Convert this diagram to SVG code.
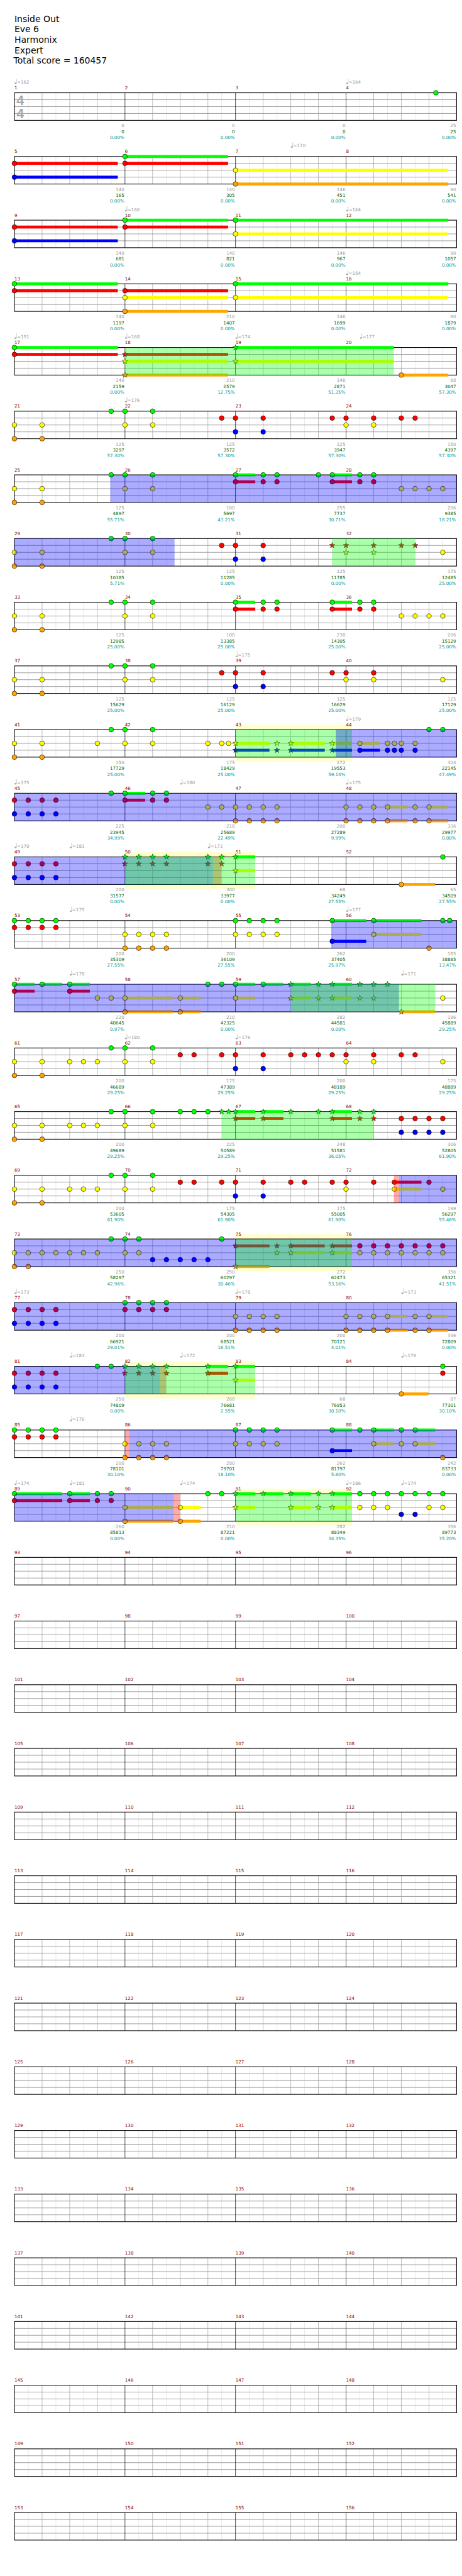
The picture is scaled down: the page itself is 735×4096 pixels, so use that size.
<svg xmlns="http://www.w3.org/2000/svg" xmlns:xlink="http://www.w3.org/1999/xlink" width="735" height="4096" viewBox="0 0 735 4096">
<style>
.t{font-family:"DejaVu Sans",sans-serif;font-size:19.5px;fill:#000}
.m{font-family:"DejaVu Sans",sans-serif;font-size:10px;fill:#8b0000}
.a,.b,.c{font-family:"DejaVu Sans",sans-serif;font-size:10px;text-anchor:end}
.a{fill:#999}.b{fill:#006400}.c{fill:#009a9a}
.tp{font-family:"DejaVu Sans",sans-serif;font-size:10px;fill:#999}
.ts{font-family:"Liberation Sans",sans-serif;font-weight:bold;font-size:30px;fill:#a8a8a8}
.G{fill:#0f0}.R{fill:#f00}.Y{fill:#ff0}.B{fill:#00f}.O{fill:#ffa500}
.og{fill:#0f0;fill-opacity:.33}.ob{fill:#00f;fill-opacity:.33}.or{fill:#f00;fill-opacity:.33}
.yb{fill:#ffffcc}
</style>
<defs>
<g id="staff">
<rect x="32" y="0" width="980" height="61" fill="#fff"/>
<path d="M62.6 0V61M123.9 0V61M185.1 0V61M246.4 0V61M307.6 0V61M368.9 0V61M430.1 0V61M491.4 0V61M552.6 0V61M613.9 0V61M675.1 0V61M736.4 0V61M797.6 0V61M858.9 0V61M920.1 0V61M981.4 0V61" stroke="#e0e0e0"/>
<path d="M93.3 0V61M154.5 0V61M215.8 0V61M338.3 0V61M399.5 0V61M460.8 0V61M583.3 0V61M644.5 0V61M705.8 0V61M828.3 0V61M889.5 0V61M950.8 0V61" stroke="#a0a0a0"/>
<path d="M32 15.25H1012M32 30.5H1012M32 45.75H1012" stroke="#999" stroke-width="1.3"/>
<path d="M277 0V61M522 0V61M767 0V61" stroke="#000"/>
<rect x="32" y="0" width="980" height="61" fill="none" stroke="#000" stroke-width="1.5"/>
</g>
<circle id="g" cy="0" r="5.3" fill="#0f0" stroke="#000" stroke-width=".8"/>
<circle id="r" cy="15.25" r="5.3" fill="#f00" stroke="#000" stroke-width=".8"/>
<circle id="y" cy="30.5" r="5.3" fill="#ff0" stroke="#000" stroke-width=".8"/>
<circle id="b" cy="45.75" r="5.3" fill="#00f" stroke="#000" stroke-width=".8"/>
<circle id="o" cy="61" r="5.3" fill="#ffa500" stroke="#000" stroke-width=".8"/>
<path id="st" d="M0-6.5L1.53-2.1 6.18-2.01 2.47.8 3.82 5.26 0 2.6-3.82 5.26-2.47.8-6.18-2.01-1.53-2.1Z" stroke="#000" stroke-width=".7"/>
<use id="sg" href="#st" fill="#0f0"/>
<use id="sr" href="#st" y="15.25" fill="#f00"/>
<use id="sy" href="#st" y="30.5" fill="#ff0"/>
<use id="sb" href="#st" y="45.75" fill="#00f"/>
<use id="so" href="#st" y="61" fill="#ffa500"/>
<g id="q"><ellipse cx="2.3" cy="-21" rx="2.3" ry="1.8" fill="#aaa"/><line x1="4.4" y1="-21" x2="4.4" y2="-31" stroke="#aaa" stroke-width=".9"/></g>
</defs>
<g transform="scale(0.71777 0.71809)">
<g id="title">
<text class="t" x="32" y="49.3">Inside Out</text>
<text class="t" x="32" y="71.7">Eve 6</text>
<text class="t" x="32" y="95">Harmonix</text>
<text class="t" x="32" y="117.7">Expert</text>
<text class="t" x="30" y="141">Total score = 160457</text>
</g>

<g id="row0" transform="translate(0,205.5)">
<use href="#staff"/>
<text class="ts" x="36.5" y="27">4</text><text class="ts" x="36.5" y="57">4</text>
<use href="#g" x="966.1"/>
<use href="#q" x="32"/><text class="tp" x="37.5" y="-20">=162</text>
<use href="#q" x="767"/><text class="tp" x="772.5" y="-20">=164</text>
<text class="m" x="32" y="-7.7">1</text><text class="m" x="277" y="-7.7">2</text><text class="m" x="522" y="-7.7">3</text><text class="m" x="767" y="-7.7">4</text>
<text class="a" x="275.5" y="76.5">0</text><text class="a" x="520.5" y="76.5">0</text><text class="a" x="765.5" y="76.5">0</text><text class="a" x="1011" y="76.5">25</text>
<text class="b" x="275.5" y="89.5">0</text><text class="b" x="520.5" y="89.5">0</text><text class="b" x="765.5" y="89.5">0</text><text class="b" x="1011" y="89.5">25</text>
<text class="c" x="275.5" y="102.5">0.00%</text><text class="c" x="520.5" y="102.5">0.00%</text><text class="c" x="765.5" y="102.5">0.00%</text><text class="c" x="1011" y="102.5">0.00%</text>
</g>

<g id="row1" transform="translate(0,346.5)">
<use href="#staff"/>
<rect class="R" x="32" y="12" width="229.1" height="6.5"/><rect class="B" x="32" y="42.5" width="229.1" height="6.5"/>
<rect class="G" x="277" y="-3.25" width="228.5" height="6.5"/><rect class="R" x="277" y="12" width="228.5" height="6.5"/>
<rect class="Y" x="522" y="27.25" width="471.6" height="6.5"/><rect class="O" x="522" y="57.75" width="471.6" height="6.5"/>
<use href="#r" x="32"/><use href="#b" x="32"/><use href="#g" x="277"/><use href="#r" x="277"/><use href="#y" x="522"/><use href="#o" x="522"/>
<use href="#q" x="644.5"/><text class="tp" x="650" y="-20">=170</text>
<text class="m" x="32" y="-7.7">5</text><text class="m" x="277" y="-7.7">6</text><text class="m" x="522" y="-7.7">7</text><text class="m" x="767" y="-7.7">8</text>
<text class="a" x="275.5" y="76.5">140</text><text class="a" x="520.5" y="76.5">140</text><text class="a" x="765.5" y="76.5">146</text><text class="a" x="1011" y="76.5">90</text>
<text class="b" x="275.5" y="89.5">165</text><text class="b" x="520.5" y="89.5">305</text><text class="b" x="765.5" y="89.5">451</text><text class="b" x="1011" y="89.5">541</text>
<text class="c" x="275.5" y="102.5">0.00%</text><text class="c" x="520.5" y="102.5">0.00%</text><text class="c" x="765.5" y="102.5">0.00%</text><text class="c" x="1011" y="102.5">0.00%</text>
</g>

<g id="row2" transform="translate(0,487.5)">
<use href="#staff"/>
<rect class="R" x="32" y="12" width="229.1" height="6.5"/><rect class="B" x="32" y="42.5" width="229.1" height="6.5"/>
<rect class="G" x="277" y="-3.25" width="228.5" height="6.5"/><rect class="R" x="277" y="12" width="228.5" height="6.5"/>
<rect class="G" x="522" y="-3.25" width="471.6" height="6.5"/><rect class="Y" x="522" y="27.25" width="471.6" height="6.5"/>
<use href="#r" x="32"/><use href="#b" x="32"/><use href="#g" x="277"/><use href="#r" x="277"/><use href="#g" x="522"/><use href="#y" x="522"/>
<use href="#q" x="277"/><text class="tp" x="282.5" y="-20">=160</text>
<use href="#q" x="767"/><text class="tp" x="772.5" y="-20">=164</text>
<text class="m" x="32" y="-7.7">9</text><text class="m" x="277" y="-7.7">10</text><text class="m" x="522" y="-7.7">11</text><text class="m" x="767" y="-7.7">12</text>
<text class="a" x="275.5" y="76.5">140</text><text class="a" x="520.5" y="76.5">140</text><text class="a" x="765.5" y="76.5">146</text><text class="a" x="1011" y="76.5">90</text>
<text class="b" x="275.5" y="89.5">681</text><text class="b" x="520.5" y="89.5">821</text><text class="b" x="765.5" y="89.5">967</text><text class="b" x="1011" y="89.5">1057</text>
<text class="c" x="275.5" y="102.5">0.00%</text><text class="c" x="520.5" y="102.5">0.00%</text><text class="c" x="765.5" y="102.5">0.00%</text><text class="c" x="1011" y="102.5">0.00%</text>
</g>

<g id="row3" transform="translate(0,628.5)">
<use href="#staff"/>
<rect class="G" x="32" y="-3.25" width="229.1" height="6.5"/><rect class="R" x="32" y="12" width="229.1" height="6.5"/>
<rect class="R" x="277" y="12" width="228.5" height="6.5"/><rect class="Y" x="277" y="27.25" width="228.5" height="6.5"/><rect class="O" x="277" y="57.75" width="228.5" height="6.5"/>
<rect class="G" x="522" y="-3.25" width="471.6" height="6.5"/><rect class="Y" x="522" y="27.25" width="471.6" height="6.5"/>
<use href="#g" x="32"/><use href="#r" x="32"/><use href="#r" x="277"/><use href="#y" x="277"/><use href="#o" x="277"/><use href="#g" x="522"/><use href="#y" x="522"/>
<use href="#q" x="767"/><text class="tp" x="772.5" y="-20">=154</text>
<text class="m" x="32" y="-7.7">13</text><text class="m" x="277" y="-7.7">14</text><text class="m" x="522" y="-7.7">15</text><text class="m" x="767" y="-7.7">16</text>
<text class="a" x="275.5" y="76.5">140</text><text class="a" x="520.5" y="76.5">210</text><text class="a" x="765.5" y="76.5">146</text><text class="a" x="1011" y="76.5">90</text>
<text class="b" x="275.5" y="89.5">1197</text><text class="b" x="520.5" y="89.5">1407</text><text class="b" x="765.5" y="89.5">1699</text><text class="b" x="1011" y="89.5">1879</text>
<text class="c" x="275.5" y="102.5">0.00%</text><text class="c" x="520.5" y="102.5">0.00%</text><text class="c" x="765.5" y="102.5">0.00%</text><text class="c" x="1011" y="102.5">0.00%</text>
</g>

<g id="row4" transform="translate(0,769.5)">
<use href="#staff"/>
<rect class="G" x="32" y="-3.25" width="229.1" height="6.5"/><rect class="R" x="32" y="12" width="229.1" height="6.5"/>
<rect class="R" x="277" y="12" width="228.5" height="6.5"/><rect class="Y" x="277" y="27.25" width="228.5" height="6.5"/><rect class="O" x="277" y="57.75" width="228.5" height="6.5"/>
<rect class="G" x="522" y="-3.25" width="351" height="6.5"/><rect class="Y" x="522" y="27.25" width="351" height="6.5"/>
<rect class="O" x="889.5" y="57.75" width="104.1" height="6.5"/>
<use href="#g" x="32"/><use href="#r" x="32"/>
<use href="#sr" x="277"/><use href="#sy" x="277"/><use href="#so" x="277"/><use href="#sg" x="522"/><use href="#sy" x="522"/>
<use href="#o" x="889.5"/>
<rect class="og" x="277" y="0" width="596" height="61"/>
<use href="#q" x="32"/><text class="tp" x="37.5" y="-20">=151</text>
<use href="#q" x="277"/><text class="tp" x="282.5" y="-20">=168</text>
<use href="#q" x="522"/><text class="tp" x="527.5" y="-20">=174</text>
<use href="#q" x="797.6"/><text class="tp" x="803.1" y="-20">=177</text>
<text class="m" x="32" y="-7.7">17</text><text class="m" x="277" y="-7.7">18</text><text class="m" x="522" y="-7.7">19</text><text class="m" x="767" y="-7.7">20</text>
<text class="a" x="275.5" y="76.5">140</text><text class="a" x="520.5" y="76.5">210</text><text class="a" x="765.5" y="76.5">146</text><text class="a" x="1011" y="76.5">88</text>
<text class="b" x="275.5" y="89.5">2159</text><text class="b" x="520.5" y="89.5">2579</text><text class="b" x="765.5" y="89.5">2871</text><text class="b" x="1011" y="89.5">3047</text>
<text class="c" x="275.5" y="102.5">0.00%</text><text class="c" x="520.5" y="102.5">12.75%</text><text class="c" x="765.5" y="102.5">51.35%</text><text class="c" x="1011" y="102.5">57.30%</text>
</g>

<g id="row5" transform="translate(0,910.5)">
<use href="#staff"/>
<use href="#g" x="246.4"/><use href="#g" x="277"/><use href="#g" x="338.3"/>
<use href="#r" x="491.4"/><use href="#r" x="522"/><use href="#r" x="583.3"/><use href="#r" x="736.4"/><use href="#r" x="767"/><use href="#r" x="828.3"/><use href="#r" x="889.5"/><use href="#r" x="920.1"/>
<use href="#y" x="32"/><use href="#y" x="93.3"/><use href="#y" x="277"/><use href="#y" x="338.3"/><use href="#y" x="767"/><use href="#y" x="828.3"/>
<use href="#b" x="522"/><use href="#b" x="583.3"/><use href="#o" x="32"/><use href="#o" x="93.3"/>
<use href="#q" x="277"/><text class="tp" x="282.5" y="-20">=176</text>
<text class="m" x="32" y="-7.7">21</text><text class="m" x="277" y="-7.7">22</text><text class="m" x="522" y="-7.7">23</text><text class="m" x="767" y="-7.7">24</text>
<text class="a" x="275.5" y="76.5">125</text><text class="a" x="520.5" y="76.5">125</text><text class="a" x="765.5" y="76.5">125</text><text class="a" x="1011" y="76.5">150</text>
<text class="b" x="275.5" y="89.5">3297</text><text class="b" x="520.5" y="89.5">3572</text><text class="b" x="765.5" y="89.5">3947</text><text class="b" x="1011" y="89.5">4397</text>
<text class="c" x="275.5" y="102.5">57.30%</text><text class="c" x="520.5" y="102.5">57.30%</text><text class="c" x="765.5" y="102.5">57.30%</text><text class="c" x="1011" y="102.5">57.30%</text>
</g>

<g id="row6" transform="translate(0,1051.5)">
<use href="#staff"/>
<rect class="G" x="522" y="-3.25" width="43.8" height="6.5"/><rect class="R" x="522" y="12" width="43.8" height="6.5"/>
<rect class="G" x="736.4" y="-3.25" width="43.8" height="6.5"/><rect class="R" x="736.4" y="12" width="43.8" height="6.5"/>
<use href="#g" x="246.4"/><use href="#g" x="277"/><use href="#g" x="338.3"/><use href="#g" x="522"/><use href="#g" x="583.3"/><use href="#g" x="613.9"/><use href="#g" x="705.8"/><use href="#g" x="736.4"/><use href="#g" x="797.6"/><use href="#g" x="828.3"/>
<use href="#r" x="522"/><use href="#r" x="583.3"/><use href="#r" x="613.9"/><use href="#r" x="736.4"/><use href="#r" x="797.6"/><use href="#r" x="828.3"/>
<use href="#y" x="32"/><use href="#y" x="93.3"/><use href="#y" x="277"/><use href="#y" x="338.3"/><use href="#y" x="889.5"/><use href="#y" x="920.1"/><use href="#y" x="950.8"/><use href="#y" x="981.4"/>
<use href="#o" x="32"/><use href="#o" x="93.3"/>
<rect class="ob" x="244.3" y="0" width="767.7" height="61"/>
<text class="m" x="32" y="-7.7">25</text><text class="m" x="277" y="-7.7">26</text><text class="m" x="522" y="-7.7">27</text><text class="m" x="767" y="-7.7">28</text>
<text class="a" x="275.5" y="76.5">125</text><text class="a" x="520.5" y="76.5">100</text><text class="a" x="765.5" y="76.5">255</text><text class="a" x="1011" y="76.5">206</text>
<text class="b" x="275.5" y="89.5">4897</text><text class="b" x="520.5" y="89.5">5697</text><text class="b" x="765.5" y="89.5">7737</text><text class="b" x="1011" y="89.5">9385</text>
<text class="c" x="275.5" y="102.5">55.71%</text><text class="c" x="520.5" y="102.5">43.21%</text><text class="c" x="765.5" y="102.5">30.71%</text><text class="c" x="1011" y="102.5">18.21%</text>
</g>

<g id="row7" transform="translate(0,1192.5)">
<use href="#staff"/>
<use href="#g" x="246.4"/><use href="#g" x="277"/><use href="#g" x="338.3"/>
<use href="#y" x="32"/><use href="#y" x="93.3"/><use href="#y" x="277"/><use href="#y" x="338.3"/><use href="#y" x="981.4"/>
<use href="#o" x="32"/><use href="#o" x="93.3"/>
<use href="#r" x="491.4"/><use href="#r" x="522"/><use href="#r" x="583.3"/><use href="#b" x="522"/><use href="#b" x="583.3"/>
<use href="#sr" x="736.4"/><use href="#sr" x="767"/><use href="#sr" x="828.3"/><use href="#sr" x="889.5"/><use href="#sr" x="920.1"/>
<use href="#sy" x="767"/><use href="#sy" x="828.3"/>
<rect class="ob" x="32" y="0" width="354.9" height="61"/><rect class="og" x="736.4" y="0" width="183.7" height="61"/>
<text class="m" x="32" y="-7.7">29</text><text class="m" x="277" y="-7.7">30</text><text class="m" x="522" y="-7.7">31</text><text class="m" x="767" y="-7.7">32</text>
<text class="a" x="275.5" y="76.5">125</text><text class="a" x="520.5" y="76.5">125</text><text class="a" x="765.5" y="76.5">125</text><text class="a" x="1011" y="76.5">175</text>
<text class="b" x="275.5" y="89.5">10385</text><text class="b" x="520.5" y="89.5">11285</text><text class="b" x="765.5" y="89.5">11785</text><text class="b" x="1011" y="89.5">12485</text>
<text class="c" x="275.5" y="102.5">5.71%</text><text class="c" x="520.5" y="102.5">0.00%</text><text class="c" x="765.5" y="102.5">0.00%</text><text class="c" x="1011" y="102.5">25.00%</text>
</g>

<g id="row8" transform="translate(0,1333.5)">
<use href="#staff"/>
<rect class="G" x="522" y="-3.25" width="43.8" height="6.5"/><rect class="R" x="522" y="12" width="43.8" height="6.5"/>
<rect class="G" x="736.4" y="-3.25" width="43.8" height="6.5"/><rect class="R" x="736.4" y="12" width="43.8" height="6.5"/>
<use href="#g" x="246.4"/><use href="#g" x="277"/><use href="#g" x="338.3"/><use href="#g" x="522"/><use href="#g" x="583.3"/><use href="#g" x="613.9"/><use href="#g" x="736.4"/><use href="#g" x="797.6"/><use href="#g" x="828.3"/>
<use href="#r" x="522"/><use href="#r" x="583.3"/><use href="#r" x="613.9"/><use href="#r" x="736.4"/><use href="#r" x="797.6"/><use href="#r" x="828.3"/>
<use href="#y" x="32"/><use href="#y" x="93.3"/><use href="#y" x="277"/><use href="#y" x="338.3"/><use href="#y" x="889.5"/><use href="#y" x="920.1"/><use href="#y" x="950.8"/><use href="#y" x="981.4"/>
<use href="#o" x="32"/><use href="#o" x="93.3"/>
<text class="m" x="32" y="-7.7">33</text><text class="m" x="277" y="-7.7">34</text><text class="m" x="522" y="-7.7">35</text><text class="m" x="767" y="-7.7">36</text>
<text class="a" x="275.5" y="76.5">125</text><text class="a" x="520.5" y="76.5">100</text><text class="a" x="765.5" y="76.5">230</text><text class="a" x="1011" y="76.5">206</text>
<text class="b" x="275.5" y="89.5">12985</text><text class="b" x="520.5" y="89.5">13385</text><text class="b" x="765.5" y="89.5">14305</text><text class="b" x="1011" y="89.5">15129</text>
<text class="c" x="275.5" y="102.5">25.00%</text><text class="c" x="520.5" y="102.5">25.00%</text><text class="c" x="765.5" y="102.5">25.00%</text><text class="c" x="1011" y="102.5">25.00%</text>
</g>

<g id="row9" transform="translate(0,1474.5)">
<use href="#staff"/>
<use href="#g" x="246.4"/><use href="#g" x="277"/><use href="#g" x="338.3"/>
<use href="#r" x="491.4"/><use href="#r" x="522"/><use href="#r" x="583.3"/><use href="#r" x="736.4"/><use href="#r" x="767"/><use href="#r" x="828.3"/>
<use href="#y" x="32"/><use href="#y" x="93.3"/><use href="#y" x="277"/><use href="#y" x="338.3"/><use href="#y" x="767"/><use href="#y" x="828.3"/><use href="#y" x="981.4"/>
<use href="#b" x="522"/><use href="#b" x="583.3"/><use href="#o" x="32"/><use href="#o" x="93.3"/>
<use href="#q" x="522"/><text class="tp" x="527.5" y="-20">=175</text>
<text class="m" x="32" y="-7.7">37</text><text class="m" x="277" y="-7.7">38</text><text class="m" x="522" y="-7.7">39</text><text class="m" x="767" y="-7.7">40</text>
<text class="a" x="275.5" y="76.5">125</text><text class="a" x="520.5" y="76.5">125</text><text class="a" x="765.5" y="76.5">125</text><text class="a" x="1011" y="76.5">125</text>
<text class="b" x="275.5" y="89.5">15629</text><text class="b" x="520.5" y="89.5">16129</text><text class="b" x="765.5" y="89.5">16629</text><text class="b" x="1011" y="89.5">17129</text>
<text class="c" x="275.5" y="102.5">25.00%</text><text class="c" x="520.5" y="102.5">25.00%</text><text class="c" x="765.5" y="102.5">25.00%</text><text class="c" x="1011" y="102.5">25.00%</text>
</g>

<g id="row10" transform="translate(0,1615.5)">
<rect class="yb" x="522" y="-10.8" width="258.2" height="82"/>
<use href="#staff"/>
<rect class="Y" x="522" y="27.25" width="75.3" height="6.5"/><rect class="B" x="522" y="42.5" width="75.3" height="6.5"/>
<rect class="Y" x="644.5" y="27.25" width="75.3" height="6.5"/><rect class="B" x="644.5" y="42.5" width="75.3" height="6.5"/>
<rect class="Y" x="736.4" y="27.25" width="43.8" height="6.5"/><rect class="B" x="736.4" y="42.5" width="43.8" height="6.5"/>
<rect class="Y" x="797.6" y="27.25" width="44.7" height="6.5"/><rect class="B" x="797.6" y="42.5" width="44.7" height="6.5"/>
<use href="#g" x="246.4"/><use href="#g" x="277"/><use href="#g" x="338.3"/><use href="#g" x="950.8"/><use href="#g" x="981.4"/>
<use href="#y" x="32"/><use href="#y" x="93.3"/><use href="#y" x="215.8"/><use href="#y" x="277"/><use href="#y" x="338.3"/><use href="#y" x="460.8"/><use href="#y" x="491.4"/><use href="#y" x="506.7"/>
<use href="#sy" x="522"/><use href="#sy" x="613.9"/><use href="#sy" x="644.5"/><use href="#sy" x="736.4"/>
<use href="#sb" x="522"/><use href="#sb" x="613.9"/><use href="#sb" x="644.5"/><use href="#sb" x="736.4"/>
<use href="#y" x="797.6"/><use href="#y" x="858.9"/><use href="#y" x="874.2"/><use href="#y" x="889.5"/><use href="#y" x="920.1"/>
<use href="#b" x="797.6"/><use href="#b" x="858.9"/><use href="#b" x="874.2"/><use href="#b" x="889.5"/><use href="#b" x="920.1"/>
<use href="#o" x="32"/><use href="#o" x="93.3"/>
<rect class="og" x="522" y="0" width="258.2" height="61"/><rect class="ob" x="744.3" y="0" width="267.7" height="61"/>
<use href="#q" x="767"/><text class="tp" x="772.5" y="-20">=179</text>
<text class="m" x="32" y="-7.7">41</text><text class="m" x="277" y="-7.7">42</text><text class="m" x="522" y="-7.7">43</text><text class="m" x="767" y="-7.7">44</text>
<text class="a" x="275.5" y="76.5">150</text><text class="a" x="520.5" y="76.5">175</text><text class="a" x="765.5" y="76.5">272</text><text class="a" x="1011" y="76.5">324</text>
<text class="b" x="275.5" y="89.5">17729</text><text class="b" x="520.5" y="89.5">18429</text><text class="b" x="765.5" y="89.5">19553</text><text class="b" x="1011" y="89.5">22145</text>
<text class="c" x="275.5" y="102.5">25.00%</text><text class="c" x="520.5" y="102.5">25.00%</text><text class="c" x="765.5" y="102.5">59.14%</text><text class="c" x="1011" y="102.5">47.49%</text>
</g>

<g id="row11" transform="translate(0,1756.5)">
<use href="#staff"/>
<rect class="G" x="277" y="-3.25" width="44.7" height="6.5"/><rect class="R" x="277" y="12" width="44.7" height="6.5"/>
<rect class="Y" x="858.9" y="27.25" width="44.7" height="6.5"/><rect class="O" x="858.9" y="57.75" width="44.7" height="6.5"/>
<rect class="Y" x="950.8" y="27.25" width="42.8" height="6.5"/><rect class="O" x="950.8" y="57.75" width="42.8" height="6.5"/>
<use href="#g" x="246.4"/><use href="#g" x="277"/><use href="#g" x="338.3"/><use href="#g" x="368.9"/>
<use href="#r" x="32"/><use href="#r" x="62.6"/><use href="#r" x="93.3"/><use href="#r" x="123.9"/><use href="#r" x="277"/><use href="#r" x="338.3"/><use href="#r" x="368.9"/>
<use href="#b" x="32"/><use href="#b" x="62.6"/><use href="#b" x="93.3"/><use href="#b" x="123.9"/>
<use href="#y" x="460.8"/><use href="#y" x="491.4"/><use href="#y" x="522"/><use href="#y" x="552.6"/><use href="#y" x="583.3"/><use href="#y" x="613.9"/><use href="#y" x="767"/><use href="#y" x="797.6"/><use href="#y" x="828.3"/><use href="#y" x="858.9"/><use href="#y" x="920.1"/><use href="#y" x="950.8"/>
<use href="#o" x="522"/><use href="#o" x="552.6"/><use href="#o" x="583.3"/><use href="#o" x="613.9"/><use href="#o" x="767"/><use href="#o" x="797.6"/><use href="#o" x="828.3"/><use href="#o" x="858.9"/><use href="#o" x="920.1"/><use href="#o" x="950.8"/>
<rect class="ob" x="32" y="0" width="980" height="61"/>
<use href="#q" x="32"/><text class="tp" x="37.5" y="-20">=175</text>
<use href="#q" x="399.5"/><text class="tp" x="405" y="-20">=180</text>
<use href="#q" x="767"/><text class="tp" x="772.5" y="-20">=175</text>
<text class="m" x="32" y="-7.7">45</text><text class="m" x="277" y="-7.7">46</text><text class="m" x="522" y="-7.7">47</text><text class="m" x="767" y="-7.7">48</text>
<text class="a" x="275.5" y="76.5">225</text><text class="a" x="520.5" y="76.5">218</text><text class="a" x="765.5" y="76.5">200</text><text class="a" x="1011" y="76.5">336</text>
<text class="b" x="275.5" y="89.5">23945</text><text class="b" x="520.5" y="89.5">25689</text><text class="b" x="765.5" y="89.5">27289</text><text class="b" x="1011" y="89.5">29977</text>
<text class="c" x="275.5" y="102.5">34.99%</text><text class="c" x="520.5" y="102.5">22.49%</text><text class="c" x="765.5" y="102.5">9.99%</text><text class="c" x="1011" y="102.5">0.00%</text>
</g>

<g id="row12" transform="translate(0,1897.5)">
<rect class="yb" x="277" y="-10.8" width="288.8" height="82"/>
<use href="#staff"/>
<rect class="G" x="522" y="-3.25" width="43.8" height="6.5"/><rect class="Y" x="522" y="27.25" width="43.8" height="6.5"/>
<rect class="O" x="889.5" y="57.75" width="75.3" height="6.5"/>
<use href="#r" x="32"/><use href="#r" x="62.6"/><use href="#r" x="93.3"/><use href="#r" x="123.9"/>
<use href="#b" x="32"/><use href="#b" x="62.6"/><use href="#b" x="93.3"/><use href="#b" x="123.9"/>
<use href="#sg" x="277"/><use href="#sg" x="307.6"/><use href="#sg" x="338.3"/><use href="#sg" x="368.9"/><use href="#sg" x="460.8"/><use href="#sg" x="491.4"/><use href="#sg" x="522"/>
<use href="#sr" x="277"/><use href="#sr" x="307.6"/><use href="#sr" x="338.3"/><use href="#sr" x="368.9"/><use href="#sr" x="460.8"/><use href="#sr" x="491.4"/>
<use href="#sy" x="522"/><use href="#g" x="981.4"/><use href="#o" x="889.5"/>
<rect class="ob" x="32" y="0" width="440.1" height="61"/><rect class="or" x="472.1" y="0" width="18.9" height="61"/><rect class="og" x="277" y="0" width="288.8" height="61"/>
<use href="#q" x="32"/><text class="tp" x="37.5" y="-20">=170</text>
<use href="#q" x="154.5"/><text class="tp" x="160" y="-20">=181</text>
<use href="#q" x="460.8"/><text class="tp" x="466.3" y="-20">=173</text>
<text class="m" x="32" y="-7.7">49</text><text class="m" x="277" y="-7.7">50</text><text class="m" x="522" y="-7.7">51</text><text class="m" x="767" y="-7.7">52</text>
<text class="a" x="275.5" y="76.5">200</text><text class="a" x="520.5" y="76.5">300</text><text class="a" x="765.5" y="76.5">68</text><text class="a" x="1011" y="76.5">65</text>
<text class="b" x="275.5" y="89.5">31577</text><text class="b" x="520.5" y="89.5">33977</text><text class="b" x="765.5" y="89.5">34249</text><text class="b" x="1011" y="89.5">34509</text>
<text class="c" x="275.5" y="102.5">0.00%</text><text class="c" x="520.5" y="102.5">0.00%</text><text class="c" x="765.5" y="102.5">27.55%</text><text class="c" x="1011" y="102.5">27.55%</text>
</g>

<g id="row13" transform="translate(0,2038.5)">
<use href="#staff"/>
<rect class="G" x="736.4" y="-3.25" width="75.3" height="6.5"/><rect class="G" x="828.3" y="-3.25" width="105.9" height="6.5"/>
<rect class="Y" x="828.3" y="27.25" width="105.9" height="6.5"/><rect class="B" x="736.4" y="42.5" width="75.3" height="6.5"/>
<use href="#g" x="32"/><use href="#g" x="62.6"/><use href="#g" x="93.3"/><use href="#g" x="123.9"/><use href="#g" x="522"/><use href="#g" x="552.6"/><use href="#g" x="583.3"/><use href="#g" x="613.9"/><use href="#g" x="736.4"/><use href="#g" x="828.3"/><use href="#g" x="981.4"/><use href="#g" x="996.7"/>
<use href="#r" x="32"/><use href="#r" x="62.6"/><use href="#r" x="93.3"/><use href="#r" x="123.9"/>
<use href="#y" x="277"/><use href="#y" x="307.6"/><use href="#y" x="338.3"/><use href="#y" x="368.9"/><use href="#y" x="522"/><use href="#y" x="552.6"/><use href="#y" x="583.3"/><use href="#y" x="613.9"/><use href="#y" x="828.3"/>
<use href="#b" x="736.4"/>
<use href="#o" x="277"/><use href="#o" x="307.6"/><use href="#o" x="338.3"/><use href="#o" x="368.9"/><use href="#o" x="950.8"/>
<rect class="ob" x="734.2" y="0" width="277.8" height="61"/>
<use href="#q" x="154.5"/><text class="tp" x="160" y="-20">=175</text>
<use href="#q" x="767"/><text class="tp" x="772.5" y="-20">=177</text>
<text class="m" x="32" y="-7.7">53</text><text class="m" x="277" y="-7.7">54</text><text class="m" x="522" y="-7.7">55</text><text class="m" x="767" y="-7.7">56</text>
<text class="a" x="275.5" y="76.5">200</text><text class="a" x="520.5" y="76.5">200</text><text class="a" x="765.5" y="76.5">262</text><text class="a" x="1011" y="76.5">185</text>
<text class="b" x="275.5" y="89.5">35309</text><text class="b" x="520.5" y="89.5">36109</text><text class="b" x="765.5" y="89.5">37405</text><text class="b" x="1011" y="89.5">38885</text>
<text class="c" x="275.5" y="102.5">27.55%</text><text class="c" x="520.5" y="102.5">27.55%</text><text class="c" x="765.5" y="102.5">25.97%</text><text class="c" x="1011" y="102.5">13.47%</text>
</g>

<g id="row14" transform="translate(0,2179.5)">
<use href="#staff"/>
<rect class="G" x="32" y="-3.25" width="44.7" height="6.5"/><rect class="G" x="93.3" y="-3.25" width="44.7" height="6.5"/><rect class="G" x="154.5" y="-3.25" width="44.7" height="6.5"/>
<rect class="R" x="32" y="12" width="44.7" height="6.5"/><rect class="R" x="154.5" y="12" width="44.7" height="6.5"/>
<rect class="G" x="522" y="-3.25" width="43.8" height="6.5"/><rect class="G" x="583.3" y="-3.25" width="44.7" height="6.5"/><rect class="G" x="644.5" y="-3.25" width="44.7" height="6.5"/><rect class="G" x="736.4" y="-3.25" width="43.8" height="6.5"/>
<rect class="Y" x="277" y="27.25" width="106.6" height="6.5"/><rect class="Y" x="399.5" y="27.25" width="45.3" height="6.5"/><rect class="Y" x="522" y="27.25" width="43.8" height="6.5"/><rect class="Y" x="644.5" y="27.25" width="44.7" height="6.5"/><rect class="Y" x="736.4" y="27.25" width="43.8" height="6.5"/>
<rect class="O" x="277" y="57.75" width="106.6" height="6.5"/><rect class="O" x="399.5" y="57.75" width="45.3" height="6.5"/><rect class="O" x="889.5" y="57.75" width="75.3" height="6.5"/>
<use href="#g" x="32"/><use href="#g" x="93.3"/><use href="#g" x="154.5"/><use href="#g" x="460.8"/><use href="#g" x="491.4"/><use href="#g" x="522"/><use href="#g" x="583.3"/>
<use href="#sg" x="644.5"/><use href="#sg" x="705.8"/><use href="#sg" x="736.4"/><use href="#sg" x="797.6"/><use href="#sg" x="828.3"/><use href="#sg" x="858.9"/>
<use href="#r" x="32"/><use href="#r" x="154.5"/>
<use href="#y" x="215.8"/><use href="#y" x="246.4"/><use href="#y" x="277"/><use href="#y" x="399.5"/><use href="#y" x="522"/>
<use href="#sy" x="644.5"/><use href="#sy" x="705.8"/><use href="#sy" x="736.4"/><use href="#sy" x="797.6"/><use href="#sy" x="828.3"/>
<use href="#y" x="981.4"/><use href="#o" x="277"/><use href="#o" x="399.5"/><use href="#so" x="889.5"/>
<rect class="ob" x="32" y="0" width="852.3" height="61"/><rect class="og" x="644.5" y="0" width="320.3" height="61"/>
<use href="#q" x="154.5"/><text class="tp" x="160" y="-20">=178</text>
<use href="#q" x="889.5"/><text class="tp" x="895" y="-20">=171</text>
<text class="m" x="32" y="-7.7">57</text><text class="m" x="277" y="-7.7">58</text><text class="m" x="522" y="-7.7">59</text><text class="m" x="767" y="-7.7">60</text>
<text class="a" x="275.5" y="76.5">220</text><text class="a" x="520.5" y="76.5">210</text><text class="a" x="765.5" y="76.5">282</text><text class="a" x="1011" y="76.5">196</text>
<text class="b" x="275.5" y="89.5">40645</text><text class="b" x="520.5" y="89.5">42325</text><text class="b" x="765.5" y="89.5">44581</text><text class="b" x="1011" y="89.5">45889</text>
<text class="c" x="275.5" y="102.5">0.97%</text><text class="c" x="520.5" y="102.5">0.00%</text><text class="c" x="765.5" y="102.5">0.00%</text><text class="c" x="1011" y="102.5">29.25%</text>
</g>

<g id="row15" transform="translate(0,2320.5)">
<use href="#staff"/>
<use href="#g" x="246.4"/><use href="#g" x="277"/><use href="#g" x="338.3"/>
<use href="#r" x="399.5"/><use href="#r" x="430.1"/><use href="#r" x="491.4"/><use href="#r" x="522"/><use href="#r" x="583.3"/><use href="#r" x="644.5"/><use href="#r" x="675.1"/><use href="#r" x="705.8"/><use href="#r" x="736.4"/><use href="#r" x="767"/><use href="#r" x="828.3"/><use href="#r" x="889.5"/><use href="#r" x="920.1"/>
<use href="#y" x="32"/><use href="#y" x="93.3"/><use href="#y" x="154.5"/><use href="#y" x="185.1"/><use href="#y" x="215.8"/><use href="#y" x="277"/><use href="#y" x="338.3"/><use href="#y" x="767"/><use href="#y" x="828.3"/><use href="#y" x="981.4"/>
<use href="#b" x="522"/><use href="#b" x="583.3"/><use href="#o" x="32"/><use href="#o" x="93.3"/>
<use href="#q" x="277"/><text class="tp" x="282.5" y="-20">=180</text>
<use href="#q" x="522"/><text class="tp" x="527.5" y="-20">=176</text>
<text class="m" x="32" y="-7.7">61</text><text class="m" x="277" y="-7.7">62</text><text class="m" x="522" y="-7.7">63</text><text class="m" x="767" y="-7.7">64</text>
<text class="a" x="275.5" y="76.5">200</text><text class="a" x="520.5" y="76.5">175</text><text class="a" x="765.5" y="76.5">200</text><text class="a" x="1011" y="76.5">175</text>
<text class="b" x="275.5" y="89.5">46689</text><text class="b" x="520.5" y="89.5">47389</text><text class="b" x="765.5" y="89.5">48189</text><text class="b" x="1011" y="89.5">48889</text>
<text class="c" x="275.5" y="102.5">29.25%</text><text class="c" x="520.5" y="102.5">29.25%</text><text class="c" x="765.5" y="102.5">29.25%</text><text class="c" x="1011" y="102.5">29.25%</text>
</g>

<g id="row16" transform="translate(0,2461.5)">
<use href="#staff"/>
<rect class="G" x="522" y="-3.25" width="43.8" height="6.5"/><rect class="G" x="583.3" y="-3.25" width="44.7" height="6.5"/><rect class="G" x="736.4" y="-3.25" width="43.8" height="6.5"/>
<rect class="R" x="522" y="12" width="43.8" height="6.5"/><rect class="R" x="583.3" y="12" width="44.7" height="6.5"/><rect class="R" x="736.4" y="12" width="43.8" height="6.5"/>
<use href="#g" x="246.4"/><use href="#g" x="277"/><use href="#g" x="338.3"/><use href="#g" x="399.5"/><use href="#g" x="430.1"/><use href="#g" x="460.8"/>
<use href="#sg" x="491.4"/><use href="#sg" x="506.7"/><use href="#sg" x="522"/><use href="#sg" x="583.3"/><use href="#sg" x="644.5"/><use href="#sg" x="705.8"/><use href="#sg" x="736.4"/><use href="#sg" x="797.6"/><use href="#sg" x="828.3"/>
<use href="#sr" x="522"/><use href="#sr" x="583.3"/><use href="#sr" x="736.4"/><use href="#sr" x="797.6"/><use href="#sr" x="828.3"/>
<use href="#r" x="889.5"/><use href="#r" x="920.1"/><use href="#r" x="950.8"/><use href="#r" x="981.4"/>
<use href="#y" x="32"/><use href="#y" x="93.3"/><use href="#y" x="154.5"/><use href="#y" x="185.1"/><use href="#y" x="215.8"/><use href="#y" x="277"/><use href="#y" x="338.3"/>
<use href="#b" x="889.5"/><use href="#b" x="920.1"/><use href="#b" x="950.8"/><use href="#b" x="981.4"/>
<use href="#o" x="32"/><use href="#o" x="93.3"/>
<rect class="og" x="491.4" y="0" width="336.9" height="61"/>
<text class="m" x="32" y="-7.7">65</text><text class="m" x="277" y="-7.7">66</text><text class="m" x="522" y="-7.7">67</text><text class="m" x="767" y="-7.7">68</text>
<text class="a" x="275.5" y="76.5">200</text><text class="a" x="520.5" y="76.5">225</text><text class="a" x="765.5" y="76.5">248</text><text class="a" x="1011" y="76.5">306</text>
<text class="b" x="275.5" y="89.5">49689</text><text class="b" x="520.5" y="89.5">50589</text><text class="b" x="765.5" y="89.5">51581</text><text class="b" x="1011" y="89.5">52805</text>
<text class="c" x="275.5" y="102.5">29.25%</text><text class="c" x="520.5" y="102.5">29.25%</text><text class="c" x="765.5" y="102.5">36.05%</text><text class="c" x="1011" y="102.5">61.90%</text>
</g>

<g id="row17" transform="translate(0,2602.5)">
<use href="#staff"/>
<rect class="R" x="874.2" y="12" width="60" height="6.5"/><rect class="Y" x="874.2" y="27.25" width="60" height="6.5"/>
<use href="#g" x="246.4"/><use href="#g" x="277"/><use href="#g" x="338.3"/>
<use href="#r" x="399.5"/><use href="#r" x="430.1"/><use href="#r" x="491.4"/><use href="#r" x="522"/><use href="#r" x="583.3"/><use href="#r" x="644.5"/><use href="#r" x="675.1"/><use href="#r" x="736.4"/><use href="#r" x="767"/><use href="#r" x="828.3"/><use href="#r" x="874.2"/><use href="#r" x="950.8"/>
<use href="#y" x="32"/><use href="#y" x="93.3"/><use href="#y" x="154.5"/><use href="#y" x="185.1"/><use href="#y" x="215.8"/><use href="#y" x="277"/><use href="#y" x="338.3"/><use href="#y" x="767"/><use href="#y" x="874.2"/><use href="#y" x="981.4"/>
<use href="#b" x="522"/><use href="#b" x="583.3"/><use href="#o" x="32"/><use href="#o" x="93.3"/>
<rect class="or" x="873" y="0" width="11.3" height="61"/><rect class="ob" x="884.3" y="0" width="127.7" height="61"/>
<text class="m" x="32" y="-7.7">69</text><text class="m" x="277" y="-7.7">70</text><text class="m" x="522" y="-7.7">71</text><text class="m" x="767" y="-7.7">72</text>
<text class="a" x="275.5" y="76.5">200</text><text class="a" x="520.5" y="76.5">175</text><text class="a" x="765.5" y="76.5">175</text><text class="a" x="1011" y="76.5">199</text>
<text class="b" x="275.5" y="89.5">53605</text><text class="b" x="520.5" y="89.5">54305</text><text class="b" x="765.5" y="89.5">55005</text><text class="b" x="1011" y="89.5">56297</text>
<text class="c" x="275.5" y="102.5">61.90%</text><text class="c" x="520.5" y="102.5">61.90%</text><text class="c" x="765.5" y="102.5">61.90%</text><text class="c" x="1011" y="102.5">55.46%</text>
</g>

<g id="row18" transform="translate(0,2743.5)">
<rect class="yb" x="522" y="-10.8" width="258.2" height="82"/>
<use href="#staff"/>
<rect class="R" x="522" y="12" width="75.3" height="6.5"/><rect class="R" x="644.5" y="12" width="75.3" height="6.5"/><rect class="R" x="736.4" y="12" width="43.8" height="6.5"/>
<rect class="Y" x="644.5" y="27.25" width="75.3" height="6.5"/><rect class="Y" x="736.4" y="27.25" width="43.8" height="6.5"/>
<rect class="O" x="522" y="57.75" width="75.3" height="6.5"/>
<use href="#g" x="246.4"/><use href="#g" x="277"/><use href="#g" x="307.6"/><use href="#g" x="491.4"/>
<use href="#y" x="32"/><use href="#y" x="62.6"/><use href="#y" x="93.3"/><use href="#y" x="123.9"/><use href="#y" x="154.5"/><use href="#y" x="185.1"/><use href="#y" x="215.8"/><use href="#y" x="277"/><use href="#y" x="307.6"/>
<use href="#sy" x="613.9"/><use href="#sy" x="644.5"/><use href="#sy" x="736.4"/>
<use href="#y" x="797.6"/><use href="#y" x="828.3"/><use href="#y" x="858.9"/><use href="#y" x="889.5"/><use href="#y" x="920.1"/><use href="#y" x="950.8"/><use href="#y" x="981.4"/>
<use href="#sr" x="522"/><use href="#sr" x="613.9"/><use href="#sr" x="644.5"/><use href="#sr" x="736.4"/>
<use href="#r" x="797.6"/><use href="#r" x="828.3"/><use href="#r" x="858.9"/><use href="#r" x="889.5"/><use href="#r" x="920.1"/><use href="#r" x="950.8"/><use href="#r" x="981.4"/>
<use href="#b" x="338.3"/><use href="#b" x="368.9"/><use href="#b" x="399.5"/><use href="#b" x="430.1"/><use href="#b" x="460.8"/>
<use href="#o" x="32"/><use href="#o" x="62.6"/><use href="#so" x="522"/>
<rect class="ob" x="32" y="0" width="980" height="61"/><rect class="og" x="522" y="0" width="258.2" height="61"/>
<text class="m" x="32" y="-7.7">73</text><text class="m" x="277" y="-7.7">74</text><text class="m" x="522" y="-7.7">75</text><text class="m" x="767" y="-7.7">76</text>
<text class="a" x="275.5" y="76.5">250</text><text class="a" x="520.5" y="76.5">250</text><text class="a" x="765.5" y="76.5">272</text><text class="a" x="1011" y="76.5">356</text>
<text class="b" x="275.5" y="89.5">58297</text><text class="b" x="520.5" y="89.5">60297</text><text class="b" x="765.5" y="89.5">62473</text><text class="b" x="1011" y="89.5">65321</text>
<text class="c" x="275.5" y="102.5">42.96%</text><text class="c" x="520.5" y="102.5">30.46%</text><text class="c" x="765.5" y="102.5">53.16%</text><text class="c" x="1011" y="102.5">41.51%</text>
</g>

<g id="row19" transform="translate(0,2884.5)">
<use href="#staff"/>
<rect class="Y" x="858.9" y="27.25" width="44.7" height="6.5"/><rect class="O" x="858.9" y="57.75" width="44.7" height="6.5"/>
<rect class="Y" x="950.8" y="27.25" width="42.8" height="6.5"/><rect class="O" x="950.8" y="57.75" width="42.8" height="6.5"/>
<use href="#r" x="32"/><use href="#r" x="62.6"/><use href="#r" x="93.3"/><use href="#r" x="123.9"/><use href="#r" x="277"/><use href="#r" x="307.6"/><use href="#r" x="338.3"/><use href="#r" x="368.9"/>
<use href="#b" x="32"/><use href="#b" x="62.6"/><use href="#b" x="93.3"/><use href="#b" x="123.9"/>
<use href="#g" x="277"/><use href="#g" x="307.6"/><use href="#g" x="338.3"/><use href="#g" x="368.9"/>
<use href="#y" x="522"/><use href="#y" x="552.6"/><use href="#y" x="583.3"/><use href="#y" x="613.9"/><use href="#y" x="767"/><use href="#y" x="797.6"/><use href="#y" x="828.3"/><use href="#y" x="858.9"/><use href="#y" x="920.1"/><use href="#y" x="950.8"/>
<use href="#o" x="522"/><use href="#o" x="552.6"/><use href="#o" x="583.3"/><use href="#o" x="613.9"/><use href="#o" x="767"/><use href="#o" x="797.6"/><use href="#o" x="828.3"/><use href="#o" x="858.9"/><use href="#o" x="920.1"/><use href="#o" x="950.8"/>
<rect class="ob" x="32" y="0" width="980" height="61"/>
<use href="#q" x="32"/><text class="tp" x="37.5" y="-20">=173</text>
<use href="#q" x="522"/><text class="tp" x="527.5" y="-20">=178</text>
<use href="#q" x="889.5"/><text class="tp" x="895" y="-20">=173</text>
<text class="m" x="32" y="-7.7">77</text><text class="m" x="277" y="-7.7">78</text><text class="m" x="522" y="-7.7">79</text><text class="m" x="767" y="-7.7">80</text>
<text class="a" x="275.5" y="76.5">200</text><text class="a" x="520.5" y="76.5">200</text><text class="a" x="765.5" y="76.5">200</text><text class="a" x="1011" y="76.5">336</text>
<text class="b" x="275.5" y="89.5">66921</text><text class="b" x="520.5" y="89.5">68521</text><text class="b" x="765.5" y="89.5">70121</text><text class="b" x="1011" y="89.5">72809</text>
<text class="c" x="275.5" y="102.5">29.01%</text><text class="c" x="520.5" y="102.5">16.51%</text><text class="c" x="765.5" y="102.5">4.01%</text><text class="c" x="1011" y="102.5">0.00%</text>
</g>

<g id="row20" transform="translate(0,3025.5)">
<rect class="yb" x="277" y="-10.8" width="288.8" height="82"/>
<use href="#staff"/>
<rect class="G" x="460.8" y="-3.25" width="44.7" height="6.5"/><rect class="R" x="460.8" y="12" width="44.7" height="6.5"/>
<rect class="G" x="522" y="-3.25" width="43.8" height="6.5"/><rect class="Y" x="522" y="27.25" width="43.8" height="6.5"/>
<rect class="O" x="889.5" y="57.75" width="60" height="6.5"/>
<use href="#r" x="32"/><use href="#r" x="62.6"/><use href="#r" x="93.3"/><use href="#r" x="123.9"/>
<use href="#b" x="32"/><use href="#b" x="62.6"/><use href="#b" x="93.3"/><use href="#b" x="123.9"/>
<use href="#g" x="215.8"/><use href="#g" x="246.4"/>
<use href="#sg" x="277"/><use href="#sg" x="307.6"/><use href="#sg" x="338.3"/><use href="#sg" x="368.9"/><use href="#sg" x="460.8"/><use href="#sg" x="522"/>
<use href="#sr" x="277"/><use href="#sr" x="307.6"/><use href="#sr" x="338.3"/><use href="#sr" x="368.9"/><use href="#sr" x="460.8"/>
<use href="#sy" x="522"/><use href="#g" x="981.4"/><use href="#r" x="981.4"/><use href="#o" x="889.5"/>
<rect class="ob" x="32" y="0" width="322.8" height="61"/><rect class="or" x="354.8" y="0" width="13.5" height="61"/><rect class="og" x="277" y="0" width="288.8" height="61"/>
<use href="#q" x="154.5"/><text class="tp" x="160" y="-20">=183</text>
<use href="#q" x="399.5"/><text class="tp" x="405" y="-20">=172</text>
<use href="#q" x="889.5"/><text class="tp" x="895" y="-20">=179</text>
<text class="m" x="32" y="-7.7">81</text><text class="m" x="277" y="-7.7">82</text><text class="m" x="522" y="-7.7">83</text><text class="m" x="767" y="-7.7">84</text>
<text class="a" x="275.5" y="76.5">250</text><text class="a" x="520.5" y="76.5">268</text><text class="a" x="765.5" y="76.5">68</text><text class="a" x="1011" y="76.5">87</text>
<text class="b" x="275.5" y="89.5">74809</text><text class="b" x="520.5" y="89.5">76681</text><text class="b" x="765.5" y="89.5">76953</text><text class="b" x="1011" y="89.5">77301</text>
<text class="c" x="275.5" y="102.5">0.00%</text><text class="c" x="520.5" y="102.5">2.55%</text><text class="c" x="765.5" y="102.5">30.10%</text><text class="c" x="1011" y="102.5">30.10%</text>
</g>

<g id="row21" transform="translate(0,3166.5)">
<use href="#staff"/>
<rect class="G" x="736.4" y="-3.25" width="43.8" height="6.5"/><rect class="G" x="828.3" y="-3.25" width="44.7" height="6.5"/><rect class="G" x="920.1" y="-3.25" width="44.7" height="6.5"/>
<rect class="Y" x="828.3" y="27.25" width="44.7" height="6.5"/><rect class="Y" x="920.1" y="27.25" width="44.7" height="6.5"/>
<rect class="B" x="736.4" y="42.5" width="43.8" height="6.5"/>
<use href="#g" x="32"/><use href="#g" x="62.6"/><use href="#g" x="93.3"/><use href="#g" x="123.9"/><use href="#g" x="522"/><use href="#g" x="552.6"/><use href="#g" x="583.3"/><use href="#g" x="613.9"/><use href="#g" x="736.4"/><use href="#g" x="797.6"/><use href="#g" x="828.3"/><use href="#g" x="889.5"/><use href="#g" x="920.1"/>
<use href="#r" x="32"/><use href="#r" x="62.6"/><use href="#r" x="93.3"/><use href="#r" x="123.9"/>
<use href="#y" x="277"/><use href="#y" x="307.6"/><use href="#y" x="338.3"/><use href="#y" x="368.9"/><use href="#y" x="522"/><use href="#y" x="552.6"/><use href="#y" x="583.3"/><use href="#y" x="613.9"/><use href="#y" x="828.3"/><use href="#y" x="889.5"/><use href="#y" x="920.1"/>
<use href="#o" x="277"/><use href="#o" x="307.6"/><use href="#o" x="338.3"/><use href="#o" x="368.9"/><use href="#o" x="981.4"/>
<use href="#b" x="736.4"/>
<rect class="or" x="277" y="0" width="9.2" height="61"/><rect class="ob" x="286.2" y="0" width="725.8" height="61"/>
<use href="#q" x="154.5"/><text class="tp" x="160" y="-20">=176</text>
<text class="m" x="32" y="-7.7">85</text><text class="m" x="277" y="-7.7">86</text><text class="m" x="522" y="-7.7">87</text><text class="m" x="767" y="-7.7">88</text>
<text class="a" x="275.5" y="76.5">200</text><text class="a" x="520.5" y="76.5">200</text><text class="a" x="765.5" y="76.5">262</text><text class="a" x="1011" y="76.5">242</text>
<text class="b" x="275.5" y="89.5">78101</text><text class="b" x="520.5" y="89.5">79701</text><text class="b" x="765.5" y="89.5">81797</text><text class="b" x="1011" y="89.5">83733</text>
<text class="c" x="275.5" y="102.5">30.10%</text><text class="c" x="520.5" y="102.5">18.10%</text><text class="c" x="765.5" y="102.5">5.60%</text><text class="c" x="1011" y="102.5">0.00%</text>
</g>

<g id="row22" transform="translate(0,3307.5)">
<rect class="yb" x="522" y="-10.8" width="258.2" height="82"/>
<use href="#staff"/>
<rect class="G" x="32" y="-3.25" width="106" height="6.5"/><rect class="G" x="154.5" y="-3.25" width="44.7" height="6.5"/>
<rect class="R" x="32" y="12" width="106" height="6.5"/><rect class="R" x="154.5" y="12" width="44.7" height="6.5"/>
<rect class="G" x="522" y="-3.25" width="43.8" height="6.5"/><rect class="G" x="583.3" y="-3.25" width="44.7" height="6.5"/><rect class="G" x="644.5" y="-3.25" width="44.7" height="6.5"/><rect class="G" x="736.4" y="-3.25" width="43.8" height="6.5"/>
<rect class="Y" x="277" y="27.25" width="106.6" height="6.5"/><rect class="Y" x="399.5" y="27.25" width="45.3" height="6.5"/><rect class="Y" x="522" y="27.25" width="43.8" height="6.5"/><rect class="Y" x="644.5" y="27.25" width="44.7" height="6.5"/><rect class="Y" x="736.4" y="27.25" width="43.8" height="6.5"/>
<rect class="O" x="277" y="57.75" width="106.6" height="6.5"/><rect class="O" x="399.5" y="57.75" width="45.3" height="6.5"/>
<use href="#g" x="32"/><use href="#g" x="154.5"/><use href="#g" x="215.8"/><use href="#g" x="246.4"/><use href="#g" x="460.8"/><use href="#g" x="491.4"/>
<use href="#sg" x="522"/><use href="#sg" x="583.3"/><use href="#sg" x="644.5"/><use href="#sg" x="705.8"/><use href="#sg" x="736.4"/>
<use href="#g" x="797.6"/><use href="#g" x="828.3"/><use href="#g" x="858.9"/><use href="#g" x="889.5"/><use href="#g" x="920.1"/><use href="#g" x="950.8"/><use href="#g" x="981.4"/>
<use href="#r" x="32"/><use href="#r" x="154.5"/><use href="#r" x="215.8"/><use href="#r" x="246.4"/>
<use href="#y" x="277"/><use href="#y" x="399.5"/>
<use href="#sy" x="522"/><use href="#sy" x="644.5"/><use href="#sy" x="705.8"/><use href="#sy" x="736.4"/>
<use href="#y" x="797.6"/><use href="#y" x="828.3"/><use href="#y" x="858.9"/><use href="#y" x="950.8"/><use href="#y" x="981.4"/>
<use href="#b" x="889.5"/><use href="#b" x="920.1"/><use href="#o" x="277"/><use href="#o" x="399.5"/>
<rect class="ob" x="32" y="0" width="353.4" height="61"/><rect class="or" x="385.4" y="0" width="13.4" height="61"/><rect class="og" x="522" y="0" width="258.2" height="61"/>
<use href="#q" x="32"/><text class="tp" x="37.5" y="-20">=174</text>
<use href="#q" x="154.5"/><text class="tp" x="160" y="-20">=181</text>
<use href="#q" x="399.5"/><text class="tp" x="405" y="-20">=174</text>
<use href="#q" x="767"/><text class="tp" x="772.5" y="-20">=186</text>
<use href="#q" x="889.5"/><text class="tp" x="895" y="-20">=174</text>
<text class="m" x="32" y="-7.7">89</text><text class="m" x="277" y="-7.7">90</text><text class="m" x="522" y="-7.7">91</text><text class="m" x="767" y="-7.7">92</text>
<text class="a" x="275.5" y="76.5">260</text><text class="a" x="520.5" y="76.5">210</text><text class="a" x="765.5" y="76.5">282</text><text class="a" x="1011" y="76.5">356</text>
<text class="b" x="275.5" y="89.5">85813</text><text class="b" x="520.5" y="89.5">87221</text><text class="b" x="765.5" y="89.5">88349</text><text class="b" x="1011" y="89.5">89773</text>
<text class="c" x="275.5" y="102.5">0.00%</text><text class="c" x="520.5" y="102.5">0.00%</text><text class="c" x="765.5" y="102.5">34.35%</text><text class="c" x="1011" y="102.5">35.20%</text>
</g>

<g id="row23" transform="translate(0,3448.5)"><use href="#staff"/><text class="m" x="32" y="-7.7">93</text><text class="m" x="277" y="-7.7">94</text><text class="m" x="522" y="-7.7">95</text><text class="m" x="767" y="-7.7">96</text></g>
<g id="row24" transform="translate(0,3589.5)"><use href="#staff"/><text class="m" x="32" y="-7.7">97</text><text class="m" x="277" y="-7.7">98</text><text class="m" x="522" y="-7.7">99</text><text class="m" x="767" y="-7.7">100</text></g>
<g id="row25" transform="translate(0,3730.5)"><use href="#staff"/><text class="m" x="32" y="-7.7">101</text><text class="m" x="277" y="-7.7">102</text><text class="m" x="522" y="-7.7">103</text><text class="m" x="767" y="-7.7">104</text></g>
<g id="row26" transform="translate(0,3871.5)"><use href="#staff"/><text class="m" x="32" y="-7.7">105</text><text class="m" x="277" y="-7.7">106</text><text class="m" x="522" y="-7.7">107</text><text class="m" x="767" y="-7.7">108</text></g>
<g id="row27" transform="translate(0,4012.5)"><use href="#staff"/><text class="m" x="32" y="-7.7">109</text><text class="m" x="277" y="-7.7">110</text><text class="m" x="522" y="-7.7">111</text><text class="m" x="767" y="-7.7">112</text></g>
<g id="row28" transform="translate(0,4153.5)"><use href="#staff"/><text class="m" x="32" y="-7.7">113</text><text class="m" x="277" y="-7.7">114</text><text class="m" x="522" y="-7.7">115</text><text class="m" x="767" y="-7.7">116</text></g>
<g id="row29" transform="translate(0,4294.5)"><use href="#staff"/><text class="m" x="32" y="-7.7">117</text><text class="m" x="277" y="-7.7">118</text><text class="m" x="522" y="-7.7">119</text><text class="m" x="767" y="-7.7">120</text></g>
<g id="row30" transform="translate(0,4435.5)"><use href="#staff"/><text class="m" x="32" y="-7.7">121</text><text class="m" x="277" y="-7.7">122</text><text class="m" x="522" y="-7.7">123</text><text class="m" x="767" y="-7.7">124</text></g>
<g id="row31" transform="translate(0,4576.5)"><use href="#staff"/><text class="m" x="32" y="-7.7">125</text><text class="m" x="277" y="-7.7">126</text><text class="m" x="522" y="-7.7">127</text><text class="m" x="767" y="-7.7">128</text></g>
<g id="row32" transform="translate(0,4717.5)"><use href="#staff"/><text class="m" x="32" y="-7.7">129</text><text class="m" x="277" y="-7.7">130</text><text class="m" x="522" y="-7.7">131</text><text class="m" x="767" y="-7.7">132</text></g>
<g id="row33" transform="translate(0,4858.5)"><use href="#staff"/><text class="m" x="32" y="-7.7">133</text><text class="m" x="277" y="-7.7">134</text><text class="m" x="522" y="-7.7">135</text><text class="m" x="767" y="-7.7">136</text></g>
<g id="row34" transform="translate(0,4999.5)"><use href="#staff"/><text class="m" x="32" y="-7.7">137</text><text class="m" x="277" y="-7.7">138</text><text class="m" x="522" y="-7.7">139</text><text class="m" x="767" y="-7.7">140</text></g>
<g id="row35" transform="translate(0,5140.5)"><use href="#staff"/><text class="m" x="32" y="-7.7">141</text><text class="m" x="277" y="-7.7">142</text><text class="m" x="522" y="-7.7">143</text><text class="m" x="767" y="-7.7">144</text></g>
<g id="row36" transform="translate(0,5281.5)"><use href="#staff"/><text class="m" x="32" y="-7.7">145</text><text class="m" x="277" y="-7.7">146</text><text class="m" x="522" y="-7.7">147</text><text class="m" x="767" y="-7.7">148</text></g>
<g id="row37" transform="translate(0,5422.5)"><use href="#staff"/><text class="m" x="32" y="-7.7">149</text><text class="m" x="277" y="-7.7">150</text><text class="m" x="522" y="-7.7">151</text><text class="m" x="767" y="-7.7">152</text></g>
<g id="row38" transform="translate(0,5563.5)"><use href="#staff"/><text class="m" x="32" y="-7.7">153</text><text class="m" x="277" y="-7.7">154</text><text class="m" x="522" y="-7.7">155</text><text class="m" x="767" y="-7.7">156</text></g>
</g>
</svg>
